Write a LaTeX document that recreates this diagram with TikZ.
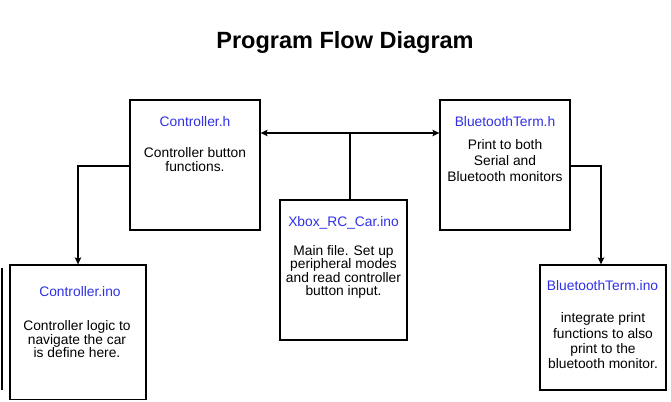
\documentclass[tikz,border=0pt]{standalone}
\usepackage{fontspec}
\setmainfont{Liberation Sans}
\usetikzlibrary{arrows.meta}
\definecolor{lblue}{RGB}{48,48,230}
\tikzset{
  box/.style={draw=black, line width=1.3pt, inner sep=0pt, fill=white},
  conn/.style={draw=black, line width=1.3pt},
  tip/.style={-{Stealth[length=7pt,width=6.5pt,inset=1.5pt]}},
  lbl/.style={font=\fontsize{13.8}{15}\selectfont, text=lblue, inner sep=0pt},
  body/.style={font=\fontsize{13.8}{#1}\selectfont, align=center, inner sep=0pt},
  ttl/.style={font=\fontsize{23.5}{26}\selectfont\bfseries, inner sep=0pt}
}
\begin{document}
\begin{tikzpicture}[x=1pt,y=-1pt]
\useasboundingbox (0,0) rectangle (671,401);
\node[ttl] (title) at (345,42) {Program Flow Diagram};
% boxes
\node[box, minimum width=130pt, minimum height=130pt] (ch) at (195,165) {};
\node[box, minimum width=130pt, minimum height=130pt] (bth) at (505,165) {};
\node[box, minimum width=127pt, minimum height=140pt] (xb) at (343.5,270) {};
\node[box, minimum width=136pt, minimum height=134.5pt] (ci) at (78,332.25) {};
\node[box, minimum width=126pt, minimum height=125pt] (bti) at (603,327.5) {};
% texts
\node[lbl] (chl) at (195,122) {Controller.h};
\node[body=14] (chb) at (195,160) {Controller button\\functions.};
\node[lbl] (bthl) at (505,122) {BluetoothTerm.h};
\node[body=16] (bthb) at (505,161) {Print to both\\Serial and\\Bluetooth monitors};
\node[lbl] (xbl) at (343.5,223) {Xbox\_RC\_Car.ino};
\node[body=13.5] (xbb) at (343.5,272) {Main file. Set up\\peripheral modes\\and read controller\\button input.};
\node[lbl] (cil) at (80,292) {Controller.ino};
\node[body=13.5] (cib) at (77,339.5) {Controller logic to\\navigate the car\\is define here.};
\node[lbl] (btil) at (602.5,286) {BluetoothTerm.ino};
\node[body=15.3] (btib) at (603,341) {integrate print\\functions to also\\print to the\\bluetooth monitor.};
% connectors
\coordinate (j) at (350,133);
\draw[conn] (j |- xb.north) -- (j);
\draw[conn, tip] (j) -- (j -| ch.east);
\draw[conn, tip] (j) -- (j -| bth.west);
\coordinate (lc) at (78,166);
\draw[conn, tip] (lc -| ch.west) -- (lc) -- (lc |- ci.north);
\coordinate (rc) at (601,166);
\draw[conn, tip] (rc -| bth.east) -- (rc) -- (rc |- bti.north);
\draw[line width=1.5pt] (2,268) -- (2,390);
\end{tikzpicture}
\end{document}
